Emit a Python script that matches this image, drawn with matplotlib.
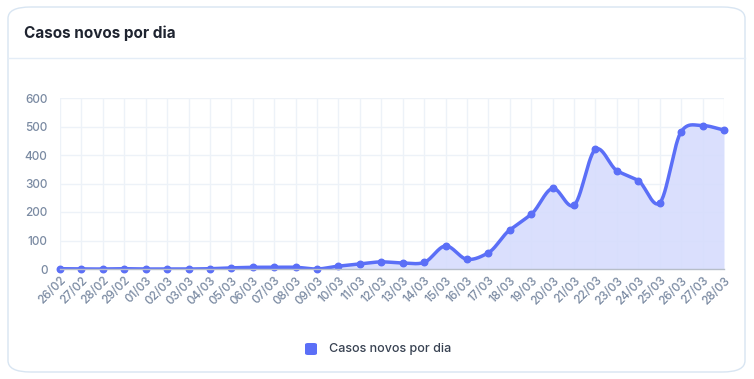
import numpy as np
import matplotlib
matplotlib.use("Agg")
import matplotlib.pyplot as plt
from matplotlib.patches import FancyBboxPatch
from matplotlib.lines import Line2D

dates = ["26/02", "27/02", "28/02", "29/02", "01/03", "02/03", "03/03", "04/03",
         "05/03", "06/03", "07/03", "08/03", "09/03", "10/03", "11/03", "12/03",
         "13/03", "14/03", "15/03", "16/03", "17/03", "18/03", "19/03", "20/03",
         "21/03", "22/03", "23/03", "24/03", "25/03", "26/03", "27/03", "28/03"]
cases = [1, 0, 0, 1, 0, 0, 0, 1, 4, 6, 6, 6, 0, 10, 18, 25,
         21, 23, 81, 34, 57, 137, 192, 283, 224, 420, 345, 310, 232, 482, 503, 488]
y_ticks = [0, 100, 200, 300, 400, 500, 600]
series_name = "Casos novos por dia"
title = "Casos novos por dia"

plt.rcParams['font.family'] = ['Inter', 'DejaVu Sans']

LINE = "#5b6ff7"
FILL = "#d6dcfd"
TXT = "#7a8aa2"
GRID = "#edf2f8"

fig = plt.figure(figsize=(7.54, 3.79), dpi=100)
W, H = 754, 379

# card
card = FancyBboxPatch((8 / W, 7 / H), (745 - 8) / W, (372 - 7) / H,
                      boxstyle="round,pad=0,rounding_size=0.03",
                      transform=fig.transFigure, facecolor="white",
                      edgecolor="#d8e5f2", linewidth=1.0, zorder=-5)
fig.add_artist(card)
fig.add_artist(Line2D([8 / W, 745 / W], [1 - 58 / H, 1 - 58 / H],
                      transform=fig.transFigure, color="#e4edf7", lw=1.0, zorder=-4))
fig.text(24 / W, 1 - 33 / H, title, fontsize=11, fontweight="bold",
         color="#1f2430", va="center", ha="left")

ax = fig.add_axes([60 / W, 1 - 269 / H, (724 - 60) / W, (269 - 98) / H])
ax.set_zorder(2)
ax.patch.set_visible(False)
x = np.arange(len(cases))
y = np.array(cases, dtype=float)

# smooth cardinal spline through the points
def smooth(xp, yp, n=30, t=0.4):
    xs, ys = [], []
    N = len(xp)
    for i in range(N - 1):
        p0 = yp[i - 1] if i > 0 else yp[i]
        p1, p2 = yp[i], yp[i + 1]
        p3 = yp[i + 2] if i + 2 < N else yp[i + 1]
        m1 = t * (p2 - p0) if i > 0 else t * (p2 - p1) * 2
        m2 = t * (p3 - p1) if i + 2 < N else t * (p2 - p1) * 2
        s = np.linspace(0, 1, n, endpoint=False)
        h00 = 2 * s**3 - 3 * s**2 + 1
        h10 = s**3 - 2 * s**2 + s
        h01 = -2 * s**3 + 3 * s**2
        h11 = s**3 - s**2
        xs.append(xp[i] + s * (xp[i + 1] - xp[i]))
        ys.append(h00 * p1 + h10 * m1 + h01 * p2 + h11 * m2)
    xs.append([xp[-1]]); ys.append([yp[-1]])
    return np.concatenate(xs), np.concatenate(ys)

xs, ys = smooth(x, y)
ax.fill_between(xs, ys, 0, color=FILL, alpha=0.9, lw=0, zorder=2)
ax.plot(xs, ys, color=LINE, lw=2.5, zorder=3, solid_capstyle="round")
ax.scatter(x, y, s=22, color=LINE, zorder=4, edgecolors=LINE, clip_on=False)

ax.set_xlim(0, len(cases) - 1)
ax.set_ylim(0, 600)
ax.set_yticks(y_ticks)
ax.set_xticks(x)
ax.set_xticklabels(dates, rotation=45, ha="right", rotation_mode="anchor")
ax.tick_params(axis="x", colors=TXT, labelsize=8.5, length=0, pad=4)
ax.tick_params(axis="y", colors=TXT, labelsize=8.5, length=0, pad=9)
for lbl in ax.get_xticklabels() + ax.get_yticklabels():
    lbl.set_color(TXT)
    lbl.set_fontweight("medium")
ax.grid(True, color=GRID, lw=1.0, zorder=0)
ax.set_axisbelow(True)
for sp in ["top", "right", "left"]:
    ax.spines[sp].set_visible(False)
ax.spines["bottom"].set_color("#b7bec9")
ax.spines["bottom"].set_linewidth(1.0)
ax.spines["bottom"].set_zorder(5)

# legend
fig.add_artist(FancyBboxPatch((305 / W, 1 - 355 / H), 12 / W, 12 / H,
                              boxstyle="round,pad=0,rounding_size=0.004",
                              transform=fig.transFigure, facecolor=LINE,
                              edgecolor="none"))
fig.text(329 / W, 1 - 349 / H, series_name, fontsize=9, color="#374151",
         va="center", ha="left", fontweight="medium")

fig.savefig("out.png", dpi=100)
